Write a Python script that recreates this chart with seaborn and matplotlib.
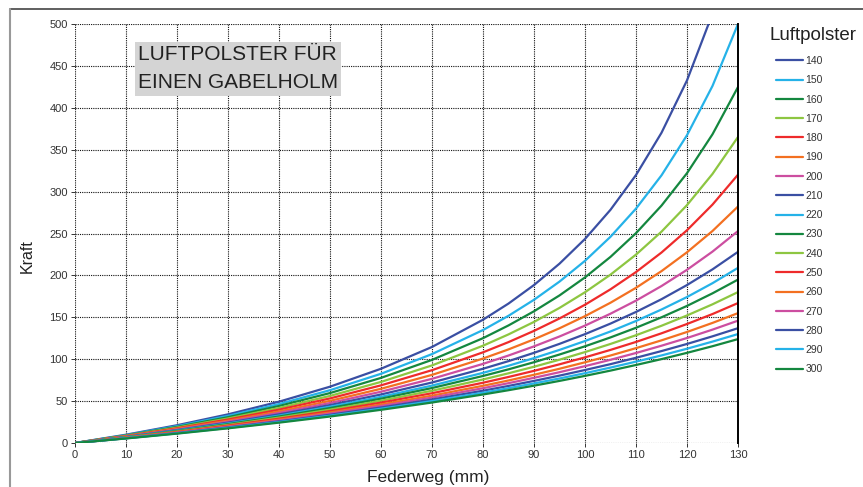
import matplotlib
matplotlib.use("Agg")
import matplotlib.pyplot as plt
from matplotlib.lines import Line2D
import seaborn as sns
import pandas as pd

# ---- data ----
federweg = [0, 10, 20, 30, 40, 50, 60, 70, 80, 85, 90, 95, 100, 105, 110, 115, 120, 125, 130]
luftpolster = [140, 150, 160, 170, 180, 190, 200, 210, 220, 230, 240, 250, 260, 270, 280, 290, 300]

kraft_140 = [0, 9.9, 21.2, 34.2, 49.3, 67.2, 88.6, 114.6, 147.1, 166.4, 188.5, 214.0, 243.5, 278.3, 319.8, 370.2, 432.7, 512.3, 617.1]
kraft_150 = [0, 9.4, 20.1, 32.4, 46.5, 63.0, 82.6, 106.1, 134.8, 151.8, 170.9, 192.6, 217.4, 246.1, 279.7, 319.4, 367.3, 426.1, 500.0]
kraft_160 = [0, 9.0, 19.2, 30.8, 44.2, 59.6, 77.7, 99.2, 125.1, 140.3, 157.2, 176.1, 197.6, 222.1, 250.4, 283.3, 322.0, 368.4, 424.8]
kraft_170 = [0, 8.7, 18.4, 29.3, 41.8, 56.2, 72.9, 92.6, 116.1, 129.6, 144.5, 161.2, 179.9, 200.9, 224.8, 252.2, 283.9, 321.1, 365.2]
kraft_180 = [0, 8.3, 17.6, 28.0, 39.8, 53.2, 68.8, 86.9, 108.2, 120.4, 133.8, 148.6, 165.0, 183.4, 204.0, 227.3, 253.9, 284.5, 320.2]
kraft_190 = [0, 7.9, 16.8, 26.6, 37.7, 50.3, 64.7, 81.3, 100.8, 111.7, 123.7, 136.9, 151.4, 167.4, 185.2, 205.1, 227.6, 253.0, 282.2]
kraft_200 = [0, 7.6, 16.0, 25.4, 35.9, 47.7, 61.2, 76.6, 94.4, 104.4, 115.3, 127.1, 140.1, 154.3, 169.9, 187.3, 206.7, 228.4, 252.9]
kraft_210 = [0, 7.3, 15.4, 24.3, 34.2, 45.3, 57.9, 72.2, 88.6, 97.7, 107.6, 118.3, 129.9, 142.5, 156.4, 171.6, 188.5, 207.2, 228.1]
kraft_220 = [0, 7.0, 14.8, 23.3, 32.7, 43.3, 55.1, 68.5, 83.7, 92.2, 101.3, 111.1, 121.7, 133.1, 145.6, 159.3, 174.2, 190.7, 209.0]
kraft_230 = [0, 6.8, 14.3, 22.5, 31.6, 41.7, 52.9, 65.6, 80.0, 87.9, 96.4, 105.6, 115.4, 126.0, 137.5, 150.0, 163.6, 178.6, 195.0]
kraft_240 = [0, 6.6, 13.7, 21.6, 30.3, 39.8, 50.5, 62.4, 75.8, 83.2, 91.0, 99.4, 108.5, 118.2, 128.6, 139.9, 152.2, 165.5, 180.1]
kraft_250 = [0, 6.3, 13.2, 20.8, 29.0, 38.1, 48.2, 59.4, 71.9, 78.8, 86.1, 93.9, 102.2, 111.1, 120.6, 130.9, 142.0, 153.9, 167.0]
kraft_260 = [0, 6.1, 12.7, 19.9, 27.8, 36.4, 46.0, 56.5, 68.3, 74.6, 81.4, 88.6, 96.3, 104.4, 113.2, 122.5, 132.5, 143.3, 155.0]
kraft_270 = [0, 5.9, 12.3, 19.3, 26.8, 35.1, 44.2, 54.2, 65.4, 71.4, 77.8, 84.5, 91.7, 99.3, 107.4, 116.1, 125.3, 135.3, 146.0]
kraft_280 = [0, 5.7, 11.9, 18.6, 25.8, 33.7, 42.4, 51.9, 62.4, 68.1, 74.1, 80.4, 87.1, 94.1, 101.7, 109.7, 118.2, 127.3, 137.0]
kraft_290 = [0, 5.6, 11.5, 18.0, 25.0, 32.6, 40.9, 50.0, 60.0, 65.4, 71.1, 77.0, 83.3, 90.0, 97.1, 104.5, 112.5, 121.0, 130.0]
kraft_300 = [0, 5.4, 11.2, 17.5, 24.3, 31.6, 39.6, 48.3, 57.9, 63.0, 68.4, 74.1, 80.1, 86.4, 93.1, 100.1, 107.6, 115.5, 124.0]

series = [kraft_140, kraft_150, kraft_160, kraft_170, kraft_180, kraft_190, kraft_200, kraft_210,
          kraft_220, kraft_230, kraft_240, kraft_250, kraft_260, kraft_270, kraft_280, kraft_290, kraft_300]

x_ticks = list(range(0, 131, 10))
y_ticks = list(range(0, 501, 50))

# ---- styling ----
base_colors = ["#3a4fa3", "#25b2e8", "#14873f", "#8dc641", "#ee2b2b", "#f37021", "#cc4ea0"]
palette = [base_colors[i % 7] for i in range(len(luftpolster))]

rows = []
for lp, vals in zip(luftpolster, series):
    for xv, yv in zip(federweg, vals):
        rows.append({"Federweg": xv, "Kraft": yv, "Luftpolster": str(lp)})
df = pd.DataFrame(rows)

sns.set_theme(style="white")
plt.rcParams["font.family"] = ["Liberation Sans", "DejaVu Sans"]

fig = plt.figure(figsize=(8.63, 4.87), dpi=100)
ax = fig.add_axes([75 / 863, 1 - 443 / 487, (738 - 75) / 863, (443 - 24) / 487])

sns.lineplot(data=df, x="Federweg", y="Kraft", hue="Luftpolster",
             hue_order=[str(v) for v in luftpolster], palette=palette,
             linewidth=1.6, ax=ax, legend=False, sort=False, estimator=None,
             solid_joinstyle="round")

ax.set_xlim(0, 130)
ax.set_ylim(0, 500)
ax.set_xticks(x_ticks)
ax.set_yticks(y_ticks)
ax.grid(True, color="#111111", linestyle=(0, (1, 1)), linewidth=0.8)
ax.set_axisbelow(True)
for s in ["left", "bottom", "top"]:
    ax.spines[s].set_visible(False)
ax.spines["right"].set_visible(True)
ax.spines["right"].set_color("black")
ax.spines["right"].set_linewidth(1.4)
ax.tick_params(axis="both", which="both", length=3, width=0.7, color="#333333",
               labelsize=8, labelcolor="#333333", pad=2, direction="out",
               left=True, bottom=True)

ax.set_xlabel("Federweg (mm)", fontsize=12.5, color="#222222")
ax.xaxis.set_label_coords((428 - 75) / (738 - 75), -0.065)
ax.set_ylabel("Kraft", fontsize=11.5, color="#222222")
ax.yaxis.set_label_coords(-(75 - 35) / (738 - 75), (443 - 256) / (443 - 24))

fig.text(138 / 863, 1 - 69 / 487, "LUFTPOLSTER FÜR\nEINEN GABELHOLM",
         fontsize=15, color="#222222", va="center", ha="left", linespacing=1.6,
         bbox=dict(boxstyle="square,pad=0.15", facecolor="#d4d4d4", edgecolor="none"))

# legend
handles = [Line2D([0], [0], color=c, linewidth=1.6) for c in palette]
fig.legend(handles, [str(v) for v in luftpolster], loc="upper left",
           bbox_to_anchor=(776 / 863, 1 - 56 / 487), bbox_transform=fig.transFigure,
           frameon=False, fontsize=7.5, handlelength=2.6, handletextpad=0.2,
           labelspacing=0.89, borderpad=0, borderaxespad=0, labelcolor="#333333")
fig.text(813 / 863, 1 - 35 / 487, "Luftpolster", fontsize=13.5, color="#222222",
         ha="center", va="center")

# outer frame (clipped by the figure edges)
fig.add_artist(Line2D([10 / 863, 1.0], [1 - 9 / 487, 1 - 9 / 487], transform=fig.transFigure,
                      color="#444444", linewidth=1.2))
fig.add_artist(Line2D([10 / 863, 10 / 863], [0.0, 1 - 9 / 487], transform=fig.transFigure,
                      color="#999999", linewidth=1.5))

fig.savefig("out.png", dpi=100)
